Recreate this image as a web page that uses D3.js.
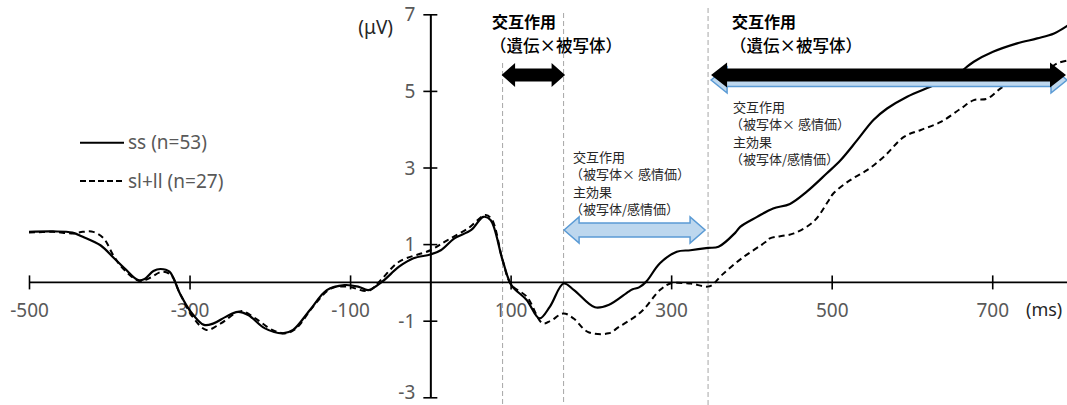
<!DOCTYPE html>
<html>
<head>
<meta charset="utf-8">
<script src="https://cdn.jsdelivr.net/npm/d3@7"></script>
<style>
  html, body { margin: 0; padding: 0; background: #fff; }
  svg { display: block; }
</style>
</head>
<body>
<svg id="chart" width="1067" height="405"></svg>
<script>
// ERP waveforms (µV) for the two genotype groups
const ssTime = [-500,-470,-446,-433,-411,-394,-381,-364,-356,-345,-336,-325,-312,-300,-282,-270,-255,-240,-227,-206,-184,-171,-150,-129,-107,-90,-77,-60,-39,-21,0,13,30,51,66,75,90,101,120,136,149,166,179,205,222,247,252,260,269,286,307,324,346,359,380,386,407,427,448,469,494,511,532,552,569,594,623,652,677,701,731,756,777,795];
const ssUv   = [1.32,1.33,1.30,1.19,0.97,0.63,0.37,0.06,0.09,0.30,0.35,0.28,-0.29,-0.72,-1.11,-1.07,-0.90,-0.77,-0.85,-1.20,-1.33,-1.24,-0.72,-0.20,-0.07,-0.11,-0.20,0.02,0.41,0.63,0.73,0.84,1.15,1.37,1.71,1.63,0.58,-0.07,-0.46,-0.94,-0.63,-0.03,-0.20,-0.65,-0.59,-0.24,-0.18,-0.13,0.02,0.50,0.80,0.84,0.90,0.93,1.30,1.45,1.71,1.93,2.05,2.37,2.85,3.19,3.72,4.24,4.54,4.85,5.11,5.37,5.76,6.02,6.24,6.37,6.50,6.72];

const slTime = [-500,-470,-446,-433,-420,-407,-394,-381,-362,-351,-334,-323,-312,-296,-279,-261,-236,-218,-197,-180,-167,-146,-124,-103,-77,-60,-39,0,21,47,69,77,90,101,120,140,150,166,179,196,222,235,252,265,286,299,324,348,363,388,418,423,453,478,495,502,523,544,565,590,611,636,661,677,694,714,735,760,781,795];
const slUv   = [1.30,1.32,1.28,1.32,1.32,1.15,0.67,0.32,0.03,0.10,0.28,0.19,-0.29,-0.90,-1.24,-1.07,-0.75,-0.94,-1.24,-1.33,-1.20,-0.63,-0.16,-0.11,-0.22,0.10,0.54,0.84,1.10,1.41,1.76,1.63,0.58,-0.07,-0.37,-1.07,-1.00,-0.81,-0.95,-1.29,-1.33,-1.16,-0.94,-0.72,-0.20,-0.03,-0.03,-0.10,0.19,0.63,1.06,1.15,1.28,1.60,2.10,2.32,2.67,2.93,3.28,3.80,3.98,4.19,4.54,4.76,4.80,5.11,5.20,5.41,5.72,5.80];

const xTicks = [-500,-300,-100,100,300,500,700];
const yTicks = [-3,-1,1,3,5,7];
const windowEdges = [90, 166, 346];          // ms
const legendLabels = ["ss (n=53)", "sl+ll (n=27)"];
const headline = ["交互作用", "（遺伝×被写体）"];
const detail = ["交互作用", "（被写体× 感情価）", "主効果", "（被写体/感情価）"];

const svg = d3.select("#chart");
const latin = "'Noto Sans', 'Noto Sans CJK JP', sans-serif";
const cjk = "'Noto Sans CJK JP', 'Noto Sans', sans-serif";
const plain = d => String(d);   // keep ASCII hyphen for negatives

const x = d3.scaleLinear().domain([-500, 800]).range([29, 1072.5]);
const y = d3.scaleLinear().domain([-3, 7]).range([397.3, 14.3]);

// dashed time-window markers
const markerTop = [63, 13, 8];
svg.append("g").selectAll("line").data(windowEdges).join("line")
  .attr("x1", d => x(d)).attr("x2", d => x(d))
  .attr("y1", (d, i) => markerTop[i]).attr("y2", 405)
  .attr("stroke", "#a6a6a6").attr("stroke-width", 1)
  .attr("stroke-dasharray", "5,3");

// axes
const xAxis = svg.append("g").attr("transform", `translate(0,${y(0)})`)
  .call(d3.axisBottom(x).tickValues(xTicks).tickSizeOuter(0).tickFormat(plain));
xAxis.select(".domain").attr("d", `M${x(-500)},0H1067`).attr("stroke", "#000").attr("stroke-width", 1.6);
xAxis.selectAll(".tick line").attr("y1", -7).attr("y2", 7).attr("stroke", "#000").attr("stroke-width", 1.6);
xAxis.selectAll(".tick text").attr("y", 28).attr("dy", "0.35em")
  .attr("fill", "#595959").style("font", `19px ${latin}`);

const yAxis = svg.append("g").attr("transform", `translate(${x(0)},0)`)
  .call(d3.axisLeft(y).tickValues(yTicks).tickSizeOuter(0).tickFormat(plain));
yAxis.select(".domain").attr("stroke", "#000").attr("stroke-width", 2);
yAxis.selectAll(".tick line").attr("x1", -7).attr("x2", 7).attr("stroke", "#000").attr("stroke-width", 1.6);
yAxis.selectAll(".tick text").attr("x", -15).attr("dy", d => d === -3 ? "0.08em" : "0.35em")
  .attr("fill", "#595959").style("font", `19px ${latin}`);

svg.append("text").attr("x", 393).attr("y", 27).attr("dy", "0.35em").attr("text-anchor", "end")
  .attr("fill", "#262626").style("font", `19px ${latin}`).text("(μV)");
svg.append("text").attr("x", 1026).attr("y", 310).attr("dy", "0.35em")
  .attr("fill", "#262626").style("font", `18px ${latin}`).text("(ms)");

// waveforms
const line = d3.line().x(d => x(d[0])).y(d => y(d[1])).curve(d3.curveCatmullRom.alpha(0.5));
const ssPts = ssTime.map((t, i) => [t, ssUv[i]]);
const slPts = slTime.map((t, i) => [t, slUv[i]]);
svg.append("clipPath").attr("id", "plotclip").append("rect")
  .attr("x", 0).attr("y", 0).attr("width", 1067).attr("height", 405);
svg.append("path").attr("d", line(slPts)).attr("fill", "none").attr("stroke", "#000")
  .attr("stroke-width", 2).attr("stroke-dasharray", "6,4").attr("clip-path", "url(#plotclip)");
svg.append("path").attr("d", line(ssPts)).attr("fill", "none").attr("stroke", "#000")
  .attr("stroke-width", 2.2).attr("clip-path", "url(#plotclip)");

// double-headed arrow outline
function doubleArrow(x1, x2, cy, shaftHalf, headHalf, headLen) {
  return `M${x1},${cy}L${x1 + headLen},${cy - headHalf}L${x1 + headLen},${cy - shaftHalf}` +
         `L${x2 - headLen},${cy - shaftHalf}L${x2 - headLen},${cy - headHalf}L${x2},${cy}` +
         `L${x2 - headLen},${cy + headHalf}L${x2 - headLen},${cy + shaftHalf}` +
         `L${x1 + headLen},${cy + shaftHalf}L${x1 + headLen},${cy + headHalf}Z`;
}

// effect windows
svg.append("path").attr("d", doubleArrow(x(windowEdges[2]) + 3, 1067, 80, 6.5, 13, 16))
  .attr("fill", "#bdd7ee").attr("stroke", "#5b9bd5").attr("stroke-width", 1.5);
svg.append("path").attr("d", doubleArrow(x(windowEdges[2]) + 3, 1066, 75, 6.5, 12.5, 16))
  .attr("fill", "#000");
svg.append("path").attr("d", doubleArrow(x(windowEdges[0]) - 1, x(windowEdges[1]) + 1.5, 75, 6.5, 12, 13.5))
  .attr("fill", "#000");
svg.append("path").attr("d", doubleArrow(x(windowEdges[1]) + 0.5, x(windowEdges[2]) - 3, 230, 7, 13, 15))
  .attr("fill", "#bdd7ee").attr("stroke", "#5b9bd5").attr("stroke-width", 1.5);

// annotations
function headlineText(x0) {
  const g = svg.append("g");
  g.append("text").attr("x", x0 + 2).attr("y", 22.5).attr("dy", "0.35em")
    .attr("fill", "#000").style("font", `bold 16px ${cjk}`).text(headline[0]);
  g.append("text").attr("x", x0).attr("y", 46).attr("dy", "0.35em")
    .attr("fill", "#000").style("font", `500 16.5px ${cjk}`).text(headline[1]);
}
headlineText(490);
headlineText(730);

function detailText(x0, y0) {
  svg.append("g").selectAll("text").data(detail).join("text")
    .attr("x", (d, i) => i % 2 ? x0 - 3 : x0)
    .attr("y", (d, i) => y0 + i * 17.6).attr("dy", "0.35em")
    .attr("fill", "#262626").style("font", `13px ${cjk}`).text(d => d);
}
detailText(573, 157);
detailText(733, 107);

// legend
const legend = svg.append("g");
[142.7, 181].forEach((ly, i) => {
  legend.append("line").attr("x1", 80).attr("x2", 124).attr("y1", ly).attr("y2", ly)
    .attr("stroke", "#000").attr("stroke-width", 2)
    .attr("stroke-dasharray", i ? "6,3" : null);
  legend.append("text").attr("x", 128).attr("y", ly).attr("dy", "0.35em")
    .attr("fill", "#595959").style("font", `19px ${latin}`).text(legendLabels[i]);
});
</script>
</body>
</html>
